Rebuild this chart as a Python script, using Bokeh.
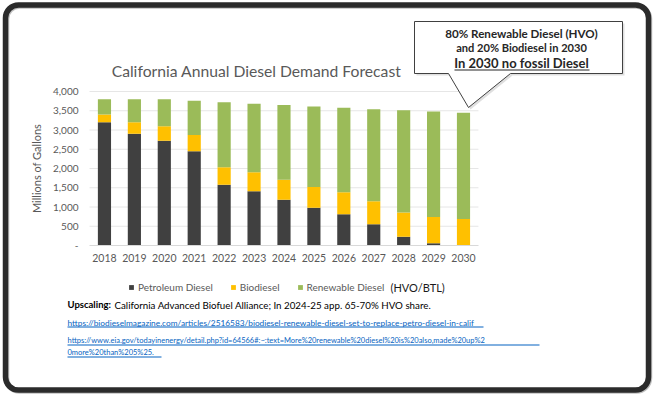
from bokeh.plotting import figure
from bokeh.models import (ColumnDataSource, Range1d, FixedTicker,
                          NumeralTickFormatter, Legend, LegendItem, Label,
                          BoxAnnotation, PolyAnnotation)
from bokeh.embed import file_html
from bokeh.resources import INLINE

# ---------------- data ----------------
years = ["2018", "2019", "2020", "2021", "2022", "2023", "2024",
         "2025", "2026", "2027", "2028", "2029", "2030"]
petroleum = [3200, 2900, 2720, 2450, 1580, 1410, 1190, 980, 810, 550, 230, 60, 0]
biodiesel = [200, 300, 380, 420, 450, 490, 520, 540, 570, 600, 630, 680, 690]
renewable = [400, 600, 700, 890, 1690, 1780, 1940, 2090, 2200, 2390, 2650, 2740, 2760]
series_names = ["Petroleum Diesel", "Biodiesel", "Renewable Diesel"]
series_colors = ["#404040", "#FFC000", "#9BBB59"]
y_ticks = [0, 500, 1000, 1500, 2000, 2500, 3000, 3500, 4000]

title_text = "California Annual Diesel Demand Forecast"
y_title = "Millions of Gallons"
legend_extra = "(HVO/BTL)"
callout_lines = ["80% Renewable Diesel (HVO)", "and 20% Biodiesel in 2030",
                 "In 2030 no fossil Diesel"]
note_bold = "Upscaling:"
note_text = "California Advanced Biofuel Alliance; In 2024-25 app. 65-70% HVO share."
link_lines = [
    "https://biodieselmagazine.com/articles/2516583/biodiesel-renewable-diesel-set-to-replace-petro-diesel-in-calif",
    "https://www.eia.gov/todayinenergy/detail.php?id=64566#:~:text=More%20renewable%20diesel%20is%20also,made%20up%2",
    "0more%20than%205%25.",
]

W, H = 653, 396
FONT = "Lato"

# layout of the plot area inside the canvas (pixels)
PLOT_LEFT, CAT_W = 89.0, 29.92
Y0_PX, Y4000_PX = 245.0, 91.0
n = len(years)
px_per_unit_y = (Y0_PX - Y4000_PX) / 4000.0
x_start = -0.5 - PLOT_LEFT / CAT_W
x_end = x_start + W / CAT_W
y_start = -(H - Y0_PX) / px_per_unit_y
y_end = 4000 + Y4000_PX / px_per_unit_y

xs = list(range(n))
source = ColumnDataSource(dict(x=xs, petroleum=petroleum,
                               biodiesel=biodiesel, renewable=renewable))

p = figure(width=W, height=H, output_backend="svg", toolbar_location=None,
           x_range=Range1d(x_start, x_end), y_range=Range1d(y_start, y_end),
           min_border=0)
p.outline_line_color = None
p.background_fill_color = "white"
p.border_fill_color = "white"
p.xgrid.visible = False
p.ygrid.visible = False

# gridlines (plot area only)
grid_y = [t for t in y_ticks if t > 0]
p.segment(x0=[-0.5] * len(grid_y), x1=[n - 0.5] * len(grid_y), y0=grid_y, y1=grid_y,
          line_color="#e6e6e6", line_width=1)

renderers = p.vbar_stack(["petroleum", "biodiesel", "renewable"], x="x",
                         width=0.44, color=series_colors, source=source,
                         line_color=None)

# y axis
p.yaxis.fixed_location = -0.5
p.yaxis.bounds = (0, 4000)
p.yaxis.ticker = FixedTicker(ticks=y_ticks)
p.yaxis.formatter = NumeralTickFormatter(format="0,0")
p.yaxis.major_label_overrides = {0: "-"}
p.yaxis.axis_line_color = None
p.yaxis.major_tick_line_color = None
p.yaxis.minor_tick_line_color = None
p.yaxis.major_tick_out = 0
p.yaxis.major_tick_in = 0
p.yaxis.major_label_standoff = 11
p.yaxis.major_label_text_font = FONT
p.yaxis.major_label_text_font_size = "10px"
p.yaxis.major_label_text_color = "#595959"
p.yaxis.axis_label = y_title
p.yaxis.axis_label_text_font = FONT
p.yaxis.axis_label_text_font_size = "11px"
p.yaxis.axis_label_text_font_style = "normal"
p.yaxis.axis_label_text_color = "#595959"
p.yaxis.axis_label_standoff = 7

# x axis
p.xaxis.fixed_location = 0
p.xaxis.bounds = (-0.5, n - 0.5)
p.xaxis.ticker = FixedTicker(ticks=xs)
p.xaxis.major_label_overrides = {i: y for i, y in zip(xs, years)}
p.xaxis.axis_line_color = "#d9d9d9"
p.xaxis.major_tick_line_color = None
p.xaxis.minor_tick_line_color = None
p.xaxis.major_tick_out = 0
p.xaxis.major_tick_in = 0
p.xaxis.major_label_standoff = 8
p.xaxis.major_label_text_font = FONT
p.xaxis.major_label_text_font_size = "10.5px"
p.xaxis.major_label_text_color = "#595959"

# legend
legend = Legend(items=[LegendItem(label=nm, renderers=[r])
                       for nm, r in zip(series_names, renderers)],
                orientation="horizontal", location=(128, H - 293),
                glyph_width=6, glyph_height=6, label_standoff=4, spacing=17,
                padding=0, margin=0, border_line_color=None,
                background_fill_alpha=0,
                label_text_font=FONT, label_text_font_size="10px",
                label_text_color="#595959", label_height=12)
p.add_layout(legend)


def canvas_box(left, right, top, bottom, **kw):
    return BoxAnnotation(left=left, right=right, top=top, bottom=bottom,
                         left_units="canvas", right_units="canvas",
                         top_units="canvas", bottom_units="canvas", **kw)


def canvas_label(x, y, text, **kw):
    return Label(x=x, y=y, x_units="canvas", y_units="canvas", text=text,
                 text_baseline="middle", text_font=FONT, **kw)


# outer rounded frame (soft shadow + dark border)
p.add_layout(canvas_box(6, W - 4, 5.5, H - 5.5, fill_alpha=0,
                        line_color="#7f7f7f", line_alpha=0.5, line_width=5.5,
                        border_radius=13))
p.add_layout(canvas_box(5, W - 5, 4.5, H - 6.5, fill_alpha=0,
                        line_color="#2b2b2b", line_alpha=1, line_width=5.5,
                        border_radius=13))

# title
p.add_layout(canvas_label(256, 70, title_text, text_align="center",
                          text_font_size="15.7px", text_color="#595959"))

# (HVO/BTL)
p.add_layout(canvas_label(390, 287, legend_extra, text_align="left",
                          text_font_size="11px", text_color="#1a1a1a"))

# note line
p.add_layout(canvas_label(67, 304, note_bold, text_align="left",
                          text_font_size="9.5px", text_font_style="bold",
                          text_color="#000000"))
p.add_layout(canvas_label(114, 304, note_text, text_align="left",
                          text_font_size="9.75px", text_color="#000000"))

# links
link_y = [322, 340, 352]
link_end = [483, 539, 161]
link_sizes = ["8.3px", "7.5px", "7.5px"]
for t, ly, le, fs in zip(link_lines, link_y, link_end, link_sizes):
    p.add_layout(canvas_label(67, ly, t, text_align="left",
                              text_font_size=fs, text_color="#0563C1"))
    p.add_layout(canvas_box(67, le, ly + 4, ly + 5, fill_color="#0563C1",
                            fill_alpha=1, line_color=None))

# callout
shape_x = [414, 622, 622, 510, 468, 448, 414]
shape_y = [21, 21, 73, 73, 107, 73, 73]
p.add_layout(PolyAnnotation(xs=[v + 2 for v in shape_x], ys=[v + 2 for v in shape_y],
                            xs_units="canvas", ys_units="canvas",
                            fill_color="#bfbfbf", fill_alpha=0.5, line_color=None))
p.add_layout(PolyAnnotation(xs=shape_x, ys=shape_y,
                            xs_units="canvas", ys_units="canvas",
                            fill_color="white", fill_alpha=1,
                            line_color="#404040", line_alpha=1, line_width=1))
callout_y = [33, 47, 62]
callout_sizes = ["11.6px", "11.1px", "13px"]
for t, ly, fs in zip(callout_lines, callout_y, callout_sizes):
    p.add_layout(canvas_label(521, ly, t, text_align="center",
                              text_font_size=fs, text_font_style="bold",
                              text_color="#262626"))
p.add_layout(canvas_box(454, 589, 69, 70, fill_color="#262626",
                        fill_alpha=1, line_color=None))

open("out.html", "w").write(file_html(p, INLINE))
